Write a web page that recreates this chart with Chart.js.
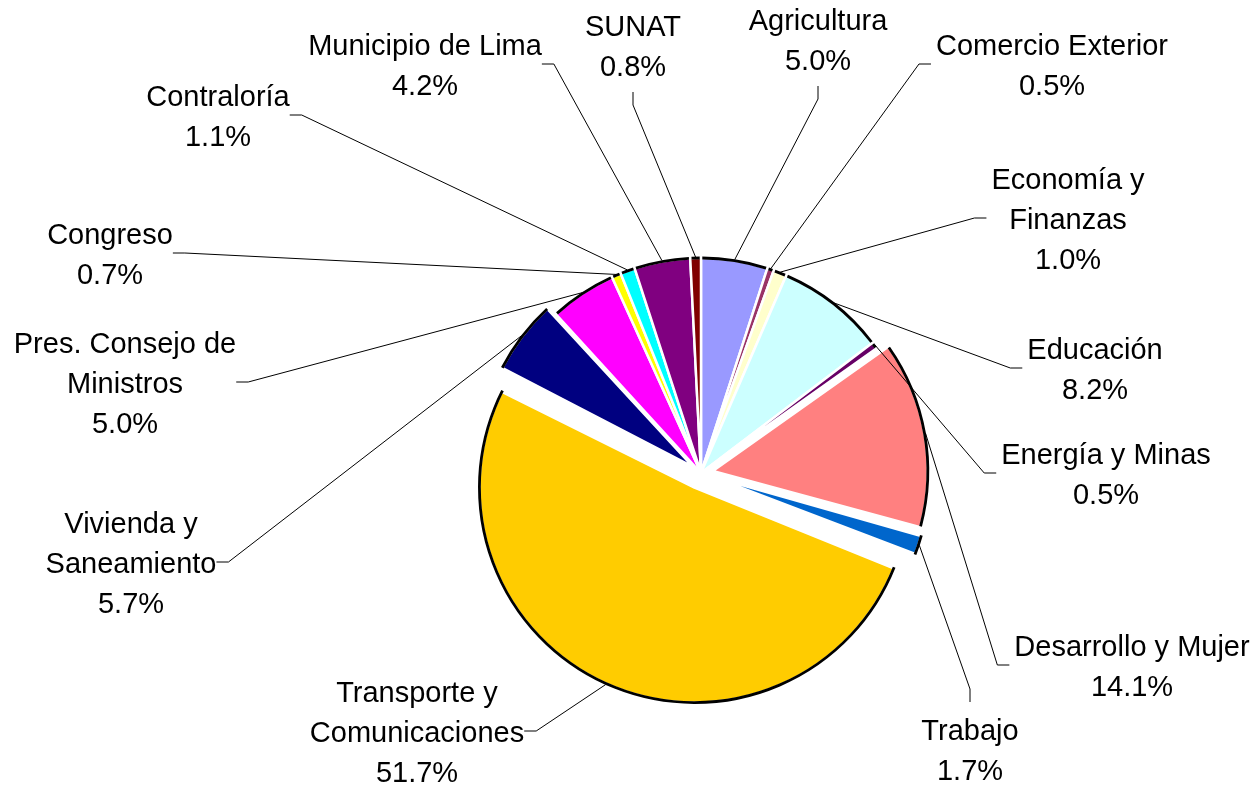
<!DOCTYPE html>
<html>
<head>
<meta charset="utf-8">
<script src="https://cdn.jsdelivr.net/npm/chart.js@4.4.0/dist/chart.umd.min.js"></script>
<style>
  html, body { margin: 0; background: #fff; }
  canvas { display: block; }
</style>
</head>
<body>
<canvas id="chart" width="1257" height="786"></canvas>
<script>
// sectors, clockwise from 12 o'clock
const categories = [
  ['Agricultura'], ['Comercio Exterior'], ['Economía y', 'Finanzas'], ['Educación'],
  ['Energía y Minas'], ['Desarrollo y Mujer'], ['Trabajo'], ['Transporte y', 'Comunicaciones'],
  ['Vivienda y', 'Saneamiento'], ['Pres. Consejo de', 'Ministros'], ['Congreso'],
  ['Contraloría'], ['Municipio de Lima'], ['SUNAT']
];
const shares = [5.0, 0.5, 1.0, 8.2, 0.5, 14.1, 1.7, 51.7, 5.7, 5.0, 0.7, 1.1, 4.2, 0.8];
const colors = ['#9999FF', '#993366', '#FFFFCC', '#CCFFFF', '#660066', '#FF8080', '#0066CC',
  '#FFCC00', '#000080', '#FF00FF', '#FFFF00', '#00FFFF', '#800080', '#800000'];
const explode = [0, 0, 0, 0, 0, 12, 14, 16, 10, 0, 0, 0, 0, 0]; // px pulled out

// where each label block sits (centre) and which side the leader line meets
const labelSpots = [
  { x: 818, y: 39, side: 'bottom' },
  { x: 1052, y: 64, side: 'left' },
  { x: 1068, y: 218, side: 'left' },
  { x: 1095, y: 368, side: 'left' },
  { x: 1106, y: 473, side: 'left' },
  { x: 1132, y: 665, side: 'left' },
  { x: 970, y: 749, side: 'top' },
  { x: 417, y: 731, side: 'right' },
  { x: 131, y: 562, side: 'right' },
  { x: 125, y: 382, side: 'right' },
  { x: 110, y: 253, side: 'right' },
  { x: 218, y: 115, side: 'right' },
  { x: 425, y: 64, side: 'right' },
  { x: 633, y: 45, side: 'bottom' }
];

const FONT = '29px "Liberation Sans", Arial, sans-serif';
const LINE_H = 40;

// chart.js grows exploded slices a bit, keep them at the pie radius
const keepRadius = {
  id: 'keepRadius',
  beforeDatasetsDraw(chart) {
    const meta = chart.getDatasetMeta(0);
    const base = meta.controller.outerRadius;
    meta.data.forEach(el => {
      const d = (el.options.offset || 0) / 4;
      const fix = 1 - Math.sin(Math.min(Math.PI, el.circumference));
      el.outerRadius = base - d * fix;
    });
  }
};

const rimAndLabels = {
  id: 'rimAndLabels',
  afterDatasetsDraw(chart) {
    const c = chart.ctx;
    const meta = chart.getDatasetMeta(0);
    const R = meta.controller.outerRadius;
    c.save();
    c.font = FONT;
    meta.data.forEach((el, i) => {
      const d = (el.options.offset || 0) / 4;
      const mid = (el.startAngle + el.endAngle) / 2;
      const cx = el.x + Math.cos(mid) * d;
      const cy = el.y + Math.sin(mid) * d;

      // black outer rim
      const gap = 1.3 / R;
      c.beginPath();
      c.arc(cx, cy, R, el.startAngle + gap, el.endAngle - gap);
      c.lineWidth = 2.8;
      c.strokeStyle = '#000';
      c.stroke();

      // label text
      const lines = categories[i].concat([shares[i].toFixed(1) + '%']);
      const spot = labelSpots[i];
      const w = Math.max(...lines.map(t => c.measureText(t).width));
      const h = lines.length * LINE_H;
      c.fillStyle = '#000';
      c.textAlign = 'center';
      c.textBaseline = 'alphabetic';
      lines.forEach((t, k) => {
        const ly = spot.y + (k - (lines.length - 1) / 2) * LINE_H;
        c.fillText(t, spot.x, ly + 10.5);
      });

      // leader line
      let ax, ay, bx, by;
      if (spot.side === 'right') { ax = spot.x + w / 2; ay = spot.y; bx = ax + 12; by = ay; }
      else if (spot.side === 'left') { ax = spot.x - w / 2 - 5; ay = spot.y; bx = ax - 12; by = ay; }
      else if (spot.side === 'bottom') { ax = spot.x; ay = spot.y + h / 2 + 7; bx = ax; by = ay + 13; }
      else { ax = spot.x; ay = spot.y - h / 2 - 7; bx = ax; by = ay - 13; }
      const px = cx + Math.cos(mid) * (R + 1);
      const py = cy + Math.sin(mid) * (R + 1);
      c.beginPath();
      c.moveTo(px, py);
      c.lineTo(bx, by);
      c.lineTo(ax, ay);
      c.lineWidth = 1;
      c.strokeStyle = '#000';
      c.stroke();
    });
    c.restore();
  }
};

new Chart(document.getElementById('chart').getContext('2d'), {
  type: 'pie',
  data: {
    labels: categories.map(l => l.join(' ')),
    datasets: [{
      data: shares,
      backgroundColor: colors,
      borderColor: '#FFFFFF',
      borderWidth: 2.5,
      offset: explode.map(v => v * 4)
    }]
  },
  options: {
    responsive: false,
    animation: false,
    radius: 215,
    layout: { padding: { left: 145, right: 0, top: 160, bottom: 0 } },
    plugins: {
      legend: { display: false },
      tooltip: { enabled: false }
    }
  },
  plugins: [keepRadius, rimAndLabels]
});
</script>
</body>
</html>
